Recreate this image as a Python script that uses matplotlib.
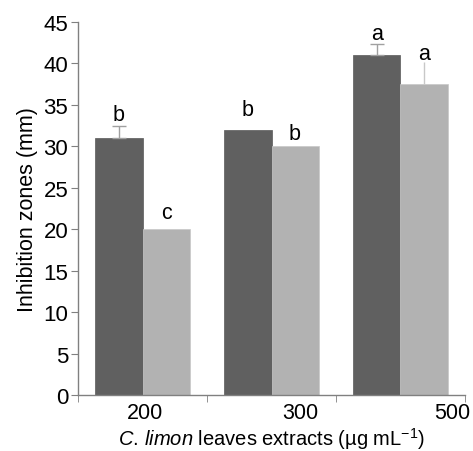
import numpy as np
import matplotlib
matplotlib.use("Agg")
import matplotlib.pyplot as plt

plt.rcParams['font.family'] = ['Liberation Sans', 'DejaVu Sans']
plt.rcParams['mathtext.fontset'] = 'custom'
plt.rcParams['mathtext.rm'] = 'Liberation Sans'
plt.rcParams['mathtext.it'] = 'Liberation Sans:italic'

doses = ["200", "300", "500"]
dark_vals = [31, 32, 41]
light_vals = [20, 30, 37.5]
dark_err = [1.5, 0, 1.4]
light_err = [0, 0, 2.7]
dark_letters = ["b", "b", "a"]
light_letters = ["c", "b", "a"]
dark_letter_y = [33.9, 34.5, 43.6]
light_letter_y = [22.0, 31.5, 41.2]
label_pos = [0.02, 1.22, 2.40]

fig = plt.figure(figsize=(4.73, 4.52), dpi=100)
ax = fig.add_axes([0.165, 0.124, 0.818, 0.825])

x = np.arange(len(doses))
w = 0.365
ax.bar(x - w/2, dark_vals, w, color="#606060", edgecolor="#595959", linewidth=0.5)
ax.bar(x + w/2, light_vals, w, color="#b2b2b2", edgecolor="#c8c8c8", linewidth=0.5)

# upper error bars only
for i in range(len(doses)):
    if dark_err[i] > 0:
        ax.errorbar(x[i] - w/2, dark_vals[i], yerr=[[0], [dark_err[i]]], fmt="none",
                    ecolor="#a0a0a0", elinewidth=1, capsize=5, capthick=1)
    if light_err[i] > 0:
        ax.errorbar(x[i] + w/2, light_vals[i], yerr=[[0], [light_err[i]]], fmt="none",
                    ecolor="#c8c8c8", elinewidth=1, capsize=0)

for i in range(len(doses)):
    ax.text(x[i] - w/2, dark_letter_y[i], dark_letters[i], ha="center", va="center", fontsize=15.5)
    ax.text(x[i] + w/2, light_letter_y[i], light_letters[i], ha="center", va="center", fontsize=15.5)

ax.set_xlim(-0.5, 2.5)
ax.set_ylim(0, 45)
ax.set_yticks(np.arange(0, 46, 5))
ax.tick_params(axis="y", labelsize=16, length=5, color="#808080", direction="out", pad=2)

ax.set_xticks(label_pos)
ax.set_xticklabels(doses, fontsize=15.5)
ax.tick_params(axis="x", length=0, pad=5)
ax.set_xticks([-0.5, 0.5, 1.5, 2.5], minor=True)
ax.tick_params(axis="x", which="minor", length=5, color="#808080", direction="out")

for s in ["top", "right"]:
    ax.spines[s].set_visible(False)
for s in ["left", "bottom"]:
    ax.spines[s].set_color("#808080")
    ax.spines[s].set_linewidth(1)

ax.set_ylabel("Inhibition zones (mm)", fontsize=15.5, labelpad=4)
ax.set_xlabel(r"$\it{C.}\,\it{limon}$ leaves extracts (µg mL$^{\mathregular{-1}}$)", fontsize=14.5)
ax.xaxis.set_label_coords(0.5, -0.080)

fig.savefig("out.png", dpi=100)
